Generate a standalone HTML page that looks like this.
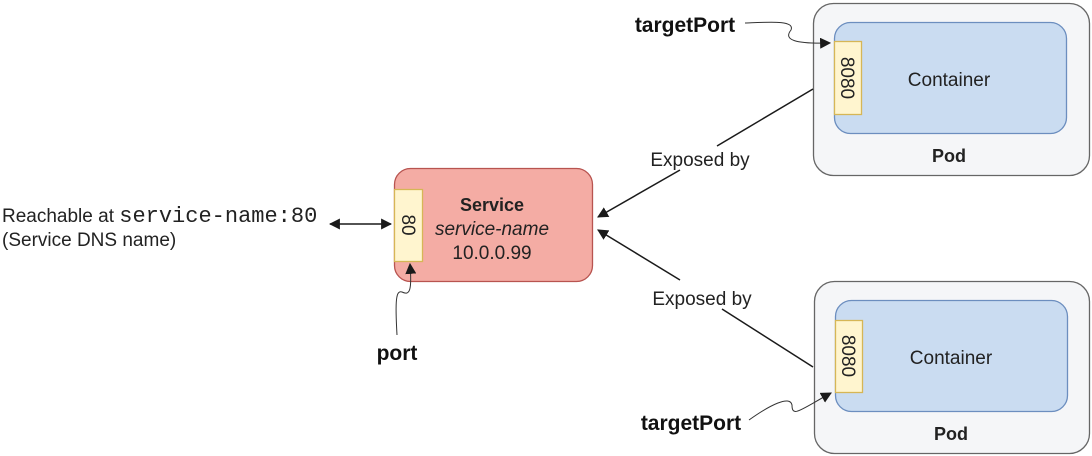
<!DOCTYPE html>
<html><head><meta charset="utf-8"><style>body{margin:0;background:#fff}svg{display:block}</style></head>
<body>
<svg width="1092" height="456" viewBox="0 0 1092 456" xmlns="http://www.w3.org/2000/svg" font-family="Liberation Sans, sans-serif">
<defs>
<marker id="a" viewBox="0 0 10 10" refX="9" refY="5" markerWidth="11" markerHeight="11" markerUnits="userSpaceOnUse" orient="auto-start-reverse"><path d="M0,0 L10,5 L0,10 z" fill="#1a1a1a"/></marker>
</defs>
<!-- Pod 1 -->
<rect x="813.5" y="3.5" width="276" height="172" rx="20" fill="#f5f6f8" stroke="#666" stroke-width="1.3"/>
<rect x="834.5" y="22.5" width="232" height="111" rx="16" fill="#cadcf1" stroke="#6c8ebf" stroke-width="1.3"/>
<rect x="834.5" y="41.5" width="27" height="73" fill="#fff5cf" stroke="#d6b656" stroke-width="1.3"/>
<text transform="translate(841,78) rotate(90)" font-size="19" text-anchor="middle" fill="#222">8080</text>
<text x="949" y="86" font-size="19" text-anchor="middle" fill="#222">Container</text>
<text x="949" y="162" font-size="18" font-weight="bold" text-anchor="middle" fill="#222">Pod</text>
<!-- Pod 2 -->
<rect x="814.5" y="281.5" width="275" height="172" rx="20" fill="#f5f6f8" stroke="#666" stroke-width="1.3"/>
<rect x="835.5" y="300.5" width="232" height="111" rx="16" fill="#cadcf1" stroke="#6c8ebf" stroke-width="1.3"/>
<rect x="835.5" y="320.5" width="27" height="72" fill="#fff5cf" stroke="#d6b656" stroke-width="1.3"/>
<text transform="translate(842,356) rotate(90)" font-size="19" text-anchor="middle" fill="#222">8080</text>
<text x="951" y="364" font-size="19" text-anchor="middle" fill="#222">Container</text>
<text x="951" y="440" font-size="18" font-weight="bold" text-anchor="middle" fill="#222">Pod</text>
<!-- Service -->
<rect x="394.5" y="168.5" width="198" height="113" rx="16" fill="#f4aca4" stroke="#b85450" stroke-width="1.3"/>
<rect x="394.5" y="189.5" width="28" height="72" fill="#fff5cf" stroke="#d6b656" stroke-width="1.3"/>
<text transform="translate(402,225) rotate(90)" font-size="19" text-anchor="middle" fill="#222">80</text>
<text x="492" y="211" font-size="18" font-weight="bold" text-anchor="middle" fill="#222">Service</text>
<text x="492" y="235" font-size="19" font-style="italic" text-anchor="middle" fill="#222">service-name</text>
<text x="492" y="259" font-size="19" text-anchor="middle" fill="#222">10.0.0.99</text>
<!-- Exposed by lines -->
<line x1="813" y1="89" x2="717" y2="146" stroke="#1a1a1a" stroke-width="1.5"/>
<line x1="680" y1="170" x2="598" y2="217" stroke="#1a1a1a" stroke-width="1.5" marker-end="url(#a)"/>
<text x="700" y="166" font-size="19" text-anchor="middle" fill="#222">Exposed by</text>
<line x1="813" y1="367" x2="722" y2="309" stroke="#1a1a1a" stroke-width="1.5"/>
<line x1="680" y1="280" x2="598" y2="230" stroke="#1a1a1a" stroke-width="1.5" marker-end="url(#a)"/>
<text x="702" y="305" font-size="19" text-anchor="middle" fill="#222">Exposed by</text>
<!-- left -->
<text x="2" y="222" font-size="19" fill="#222">Reachable at <tspan font-family="Liberation Mono, monospace" font-size="22">service-name:80</tspan></text>
<text x="2" y="246" font-size="19" fill="#222">(Service DNS name)</text>
<line x1="330" y1="224" x2="391" y2="224" stroke="#1a1a1a" stroke-width="1.5" marker-start="url(#a)" marker-end="url(#a)"/>
<!-- port -->
<path d="M397,335 C395,300 396,290 402,292 C410,296 412,290 410,264" fill="none" stroke="#333" stroke-width="1" marker-end="url(#a)"/>
<text x="397" y="360" font-size="21" font-weight="bold" text-anchor="middle" fill="#111">port</text>
<!-- targetPorts -->
<text x="685" y="32" font-size="21" font-weight="bold" text-anchor="middle" fill="#111">targetPort</text>
<path d="M745,23 C770,22 795,20 791,30 C783,40 795,44 830,43" fill="none" stroke="#333" stroke-width="1" marker-end="url(#a)"/>
<text x="691" y="430" font-size="21" font-weight="bold" text-anchor="middle" fill="#111">targetPort</text>
<path d="M749,420 C770,405 790,395 792,405 C792,418 800,410 831,393" fill="none" stroke="#333" stroke-width="1" marker-end="url(#a)"/>
</svg>
</body></html>
